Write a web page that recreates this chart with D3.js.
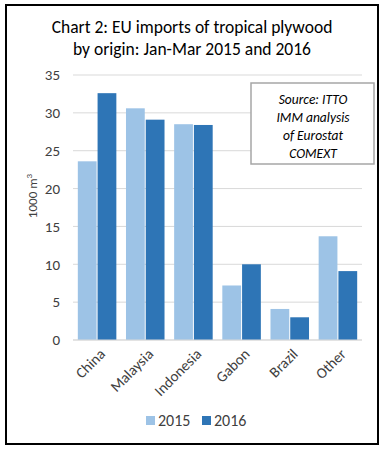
<!DOCTYPE html>
<html lang="en">
<head>
  <meta charset="UTF-8">
  <title>Chart 2</title>
  <script src="https://d3js.org/d3.v7.min.js"></script>
  <style>
    body { margin: 0; background: #fff; }
    text { font-family: Carlito, "Open Sans", "Liberation Sans", sans-serif; fill: #404040; }
  </style>
</head>
<body>
<script>
  // data
  var origins = ["China", "Malaysia", "Indonesia", "Gabon", "Brazil", "Other"];
  var years = ["2015", "2016"];
  var v2015 = [23.6, 30.6, 28.5, 7.2, 4.1, 13.7];
  var v2016 = [32.6, 29.1, 28.4, 10.0, 3.0, 9.1];
  var yTicks = [0, 5, 10, 15, 20, 25, 30, 35];
  var colors = ["#9dc3e6", "#2e75b6"];

  var W = 388, H = 455;
  var margin = {top: 75, right: 26, bottom: 115, left: 73};
  var width = 362 - margin.left, height = 340 - margin.top;

  var svg = d3.select("body").append("svg")
    .attr("width", W).attr("height", H);

  // outer frame
  svg.append("rect")
    .attr("x", 6).attr("y", 5).attr("width", 372).attr("height", 439)
    .attr("fill", "none").attr("stroke", "#000").attr("stroke-width", 2);

  // title
  svg.append("text").attr("x", 192).attr("y", 33).attr("text-anchor", "middle")
    .attr("font-size", 17.5).style("fill", "#000").text("Chart 2: EU imports of tropical plywood");
  svg.append("text").attr("x", 192).attr("y", 55).attr("text-anchor", "middle")
    .attr("font-size", 17.5).style("fill", "#000").text("by origin: Jan-Mar 2015 and 2016");

  var g = svg.append("g").attr("transform", "translate(" + margin.left + "," + margin.top + ")");

  var x0 = d3.scaleBand().domain(origins).range([0, width]).paddingInner(0.2).paddingOuter(0.1);
  var x1 = d3.scaleBand().domain(years).range([0, x0.bandwidth()]).paddingInner(0.05);
  var y = d3.scaleLinear().domain([0, 35]).range([height, 0]);

  // gridlines
  g.selectAll(".grid").data(yTicks).enter().append("line")
    .attr("x1", 0).attr("x2", width)
    .attr("y1", function(d) { return y(d); }).attr("y2", function(d) { return y(d); })
    .attr("stroke", "#d9d9d9").attr("stroke-width", 1);

  // y axis labels
  var yAxis = d3.axisLeft(y).tickValues(yTicks).tickSize(0).tickPadding(13);
  var ya = g.append("g").call(yAxis);
  ya.select(".domain").remove();
  ya.selectAll("text").attr("font-size", 15).style("font-family", null);

  // bars
  var rows = origins.map(function(o, i) { return {origin: o, vals: [v2015[i], v2016[i]]}; });
  var grp = g.selectAll(".cat").data(rows).enter().append("g")
    .attr("transform", function(d) { return "translate(" + x0(d.origin) + ",0)"; });
  grp.selectAll("rect").data(function(d) { return d.vals.map(function(v, j) { return {year: years[j], v: v, j: j}; }); })
    .enter().append("rect")
    .attr("x", function(d) { return x1(d.year); })
    .attr("width", x1.bandwidth())
    .attr("y", function(d) { return y(d.v); })
    .attr("height", function(d) { return height - y(d.v); })
    .attr("fill", function(d) { return colors[d.j]; });

  // x axis
  g.append("line").attr("x1", 0).attr("x2", width).attr("y1", height).attr("y2", height)
    .attr("stroke", "#d9d9d9");
  var xa = g.append("g").attr("transform", "translate(0," + height + ")")
    .call(d3.axisBottom(x0).tickSize(0).tickPadding(0));
  xa.select(".domain").remove();
  xa.selectAll("text")
    .attr("font-size", 15).style("font-family", null)
    .attr("text-anchor", "end")
    .attr("dy", 0)
    .attr("transform", "translate(9,15) rotate(-45)");

  // y label
  svg.append("text")
    .attr("transform", "translate(37,196) rotate(-90)")
    .attr("text-anchor", "middle").attr("font-size", 13)
    .text("1000 m").append("tspan").attr("font-size", 9).attr("dy", -5).text("3");

  // source box
  svg.append("rect").attr("x", 251).attr("y", 83).attr("width", 123).attr("height", 81)
    .attr("fill", "#fff").attr("stroke", "#a6a6a6").attr("stroke-width", 1.5);
  var src = ["Source: ITTO", "IMM analysis", "of Eurostat", "COMEXT"];
  svg.selectAll(".src").data(src).enter().append("text")
    .attr("x", 313).attr("y", function(d, i) { return 104 + i * 18; })
    .attr("text-anchor", "middle").attr("font-size", 13.5).attr("font-style", "italic")
    .style("fill", "#000")
    .text(function(d) { return d; });

  // legend
  var leg = svg.append("g").selectAll("g").data(years).enter().append("g")
    .attr("transform", function(d, i) { return "translate(" + (146 + i * 56) + ",416)"; });
  leg.append("rect").attr("width", 9).attr("height", 9)
    .attr("fill", function(d, i) { return colors[i]; });
  leg.append("text").attr("x", 12).attr("y", 10).attr("font-size", 16)
    .text(function(d) { return d; });
</script>
</body>
</html>
